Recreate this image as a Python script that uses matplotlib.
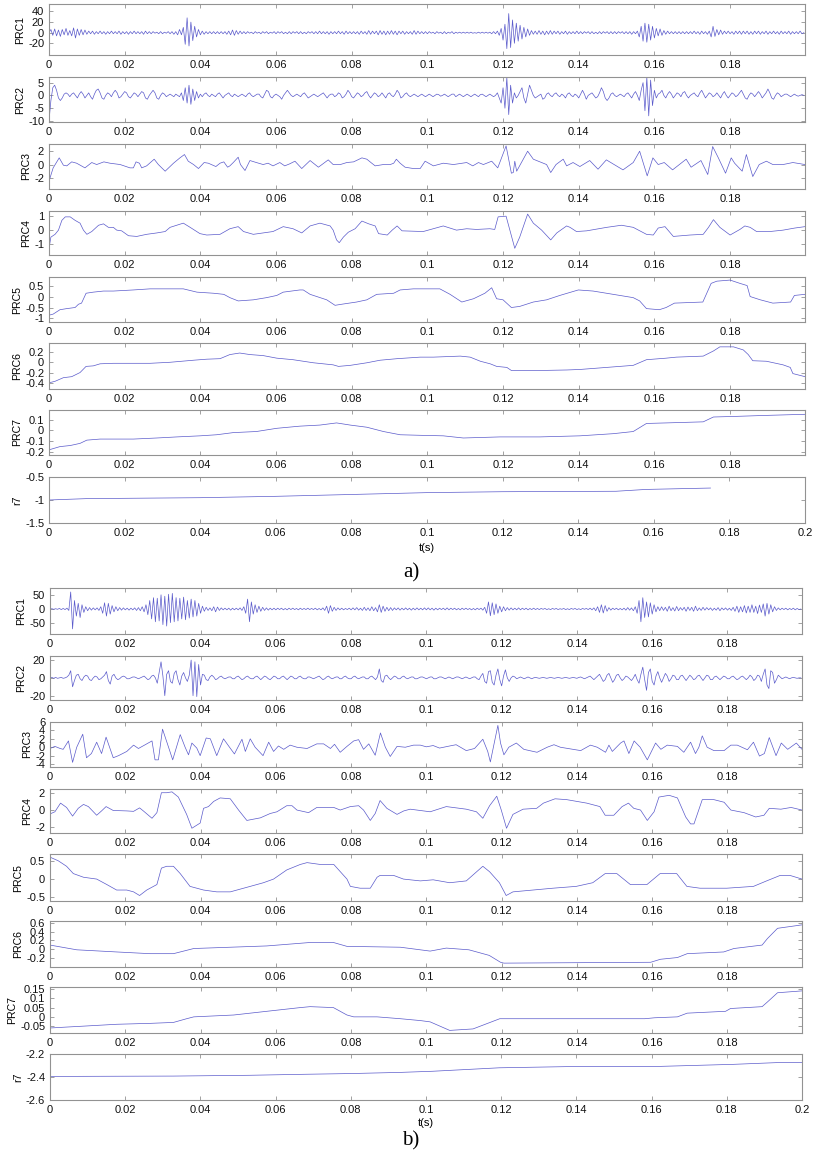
import numpy as np
import matplotlib
matplotlib.use('Agg')
import matplotlib.pyplot as plt
from matplotlib.ticker import FuncFormatter

plt.rcParams['font.family'] = ['Liberation Sans', 'DejaVu Sans']

# ---------------- data ----------------
# fast components: one value every 0.5 ms, 0 .. 199.5 ms
a_prc1 = [
    0, 6, -5, 7, -6, 5, -7, 6, -4, 8, -5, 4, -6, 9, -10, 7, -5, 6, -4, 5,
    -3, 3, -2, 3, -3, 2, -2, 3, -2, 2, -3, 2, -2, 3, -2, 2, -2, 3, -3, 2,
    -2, 2, -3, 2, -2, 3, -2, 2, -2, 2, -3, 3, -2, 2, -2, 2, -1, 1, -2, 2,
    -2, 1, -1, 2, -2, 2, -3, 2, -4, 6, -4, 10, -22, 28, -25, 20, -15, 12, -8, 6,
    -4, 3, -3, 2, -2, 2, -2, 2, -2, 2, -2, 2, -2, 2, -3, 3, -4, 5, -5, 4,
    -3, 3, -2, 2, -2, 2, -1, 1, -2, 2, -1, 1, -2, 2, -1, 2, -2, 1, -1, 2,
    -2, 2, -1, 2, -2, 1, -2, 2, -2, 2, -1, 2, -2, 2, -2, 1, -2, 2, -1, 2,
    -2, 2, -2, 3, -2, 2, -2, 2, -3, 2, -2, 2, -2, 3, -2, 2, -3, 3, -2, 2,
    -2, 2, -2, 2, -3, 3, -2, 2, -3, 4, -3, 3, -2, 3, -4, 4, -3, 3, -4, 3,
    -3, 4, -3, 3, -4, 3, -2, 3, -3, 2, -2, 2, -3, 4, -3, 3, -2, 2, -2, 2,
    -2, 2, -1, 1, -2, 2, -1, 1, -2, 2, -2, 1, -1, 2, -2, 1, -1, 1, -1, 1,
    -1, 1, -1, 1, -1, 0, -1, 1, -1, 1, -1, 1, -1, 1, -2, 2, -2, 3, -5, 8,
    -14, 16, -30, 36, -28, 24, -20, 18, -16, 14, -12, 10, -8, 7, -5, 4, -3, 3, -3, 4,
    -3, 3, -4, 3, -3, 4, -3, 3, -2, 3, -3, 2, -2, 3, -3, 2, -2, 2, -2, 3,
    -2, 2, -2, 2, -1, 2, -2, 2, -2, 1, -2, 2, -2, 2, -1, 2, -2, 2, -2, 2,
    -2, 2, -1, 2, -2, 2, -2, 2, -3, 2, -2, 3, -8, 12, -16, 18, -18, 16, -14, 12,
    -10, 8, -6, 7, -5, 4, -3, 3, -2, 2, -2, 2, -2, 2, -2, 2, -2, 2, -2, 2,
    -2, 3, -2, 2, -3, 3, -2, 2, -3, 3, -8, 12, -7, 6, -4, 5, -3, 3, -2, 3,
    -2, 2, -3, 3, -2, 3, -3, 3, -2, 3, -3, 2, -3, 3, -2, 3, -3, 2, -2, 3,
    -3, 2, -2, 3, -2, 2, -3, 3, -2, 2, -2, 3, -3, 2, -2, 2, -2, 3, -2, 0,
]
a_prc2 = [
    -10, -2, 3, 4, 2, -1, -2, -1, 0.5, 1, 0.5, -0.5, 0.5, 1, 0, -1, 0.5, 1.5, 0.5, -1,
    0, 1, -0.5, -1.5, 0.5, 2, 2.5, 1, -1, -1.5, 0, 1, 0.5, -0.5, 1, 2, 1, -1, -0.5, 0.5,
    1.5, 1, -0.5, -1, 0, 1, 0.5, -0.5, 0.5, 1.5, 1, -1, -1.5, 0, 1, 2, 1, -1, -1.5, 0,
    1, 0.5, -0.5, 0, 0.5, 0, -0.5, 0.5, 0, -0.5, 1, -2, 3, -3, 4, -3.5, 2.5, -2, 1.5, -1,
    0.5, -0.5, 0.5, 1, 0, -0.5, 0.5, 0, -0.5, 0.5, 1, 0, -1, 0, 0.5, 1, 0, -0.5, 0.5, 0,
    -0.5, 0, 0.5, 0, -0.5, 0.5, 1, 0, -0.5, 0, 0.5, 0.5, -0.5, -1, 0.5, 2, 1.5, -0.5, -1, 0,
    0.5, 0, -0.5, -1.5, 0, 1, 2, 1, 0, -0.5, 0, 0.5, 0, -0.5, 0.5, 1, 0, -1, -0.5, 0,
    0.5, 0, -0.5, 0, 0.5, 1, 0, -1, 0, 0.5, 0.5, -0.5, 0, 1, 0.5, -1, -0.5, 0.5, 2, 1,
    -0.5, -1, 0, 1, 0.5, -0.5, 0, 1, 1.5, 0, -1, 0, 1, 0.5, -0.5, 0, 1, 0, -1, 0.5,
    1, 0, -0.5, 0.5, 2, 1, -1, -0.5, 0.5, 1, 0, -0.5, 0, 0.5, 0, -0.5, 0, 0.5, 0, -0.5,
    0, 0.5, 0, -0.5, 0, 0.5, 0.3, -0.3, 0, 0.5, 0, -0.5, 0, 0.5, 0.5, -0.5, 0, 0.5, 0, -0.5,
    0, 0.5, 0, -0.5, 0, 0.5, 0, -0.5, 0.3, 0.5, 0, -0.5, 0, 0.5, 0, -0.5, 0, 1, -1, -3,
    3, -5, 7, -7.5, 4, -3, 1, -1, 0, 1.5, 3, -1, -3, 0.5, 4, 2, 0, -1, -0.5, 0,
    0.5, -1.5, -1, 0.5, 1, 0, -0.5, 0.5, 1, 0, -0.5, 0.5, 0, -1, 0.5, 1, 0, -0.5, 0.5, 0,
    -1, 0.5, 2, 0.5, -1.5, 0, 0.5, 1, 0, -1, -0.5, 1, 3, 1.5, -1, -2, -1, 0.5, 1, 0,
    -0.5, 0, 0.5, 0, -0.5, 0.5, 1, 0, -1, 0.5, 1.5, 0, -2, 2, 5, -6, 7, -8, 6, -4,
    2, -1, 0.5, 1, 2, 0, -1, 0.5, 1.5, 0.5, -1, 0, 1, 0.5, -0.5, 1, 1.5, 0, -1, 0,
    0.5, 1, 0, -0.5, 1, 2, 0.5, -1, 0, 1, 0.5, -0.5, 0, 1, 0, -1, 0.5, 1.5, 0, -1,
    0, 1, 0.5, -0.5, 0, 1, 2, 0.5, -1, -1.5, 0, 1, 0.5, -0.5, 0.5, 1.5, 0.5, -1, 0, 1,
    2.5, 1, -1, -1.5, 0, 1, 0.5, -0.5, 0, 0.5, 0.5, 0, -0.5, 0, 0.5, 0, -0.3, 0, 0.3, 0,
]
b_prc1 = [
    0, 1, -1, 1, -1, 2, -2, 2, -2, 3, -5, 60, -70, 30, -25, 20, -30, 15, -12, 8,
    -6, 5, -4, 4, -3, 4, -5, 8, -15, 22, -25, 20, -18, 12, -10, 8, -6, 5, -4, 4,
    -3, 3, -4, 3, -3, 4, -5, 5, -6, 8, -10, 15, -20, 30, -35, 40, -45, 38, -42, 50,
    -55, 45, -60, 52, -48, 55, -45, 40, -42, 38, -35, 42, -38, 30, -32, 35, -28, 30, -25, 20,
    -15, 10, -8, 6, -5, 4, -6, 8, -10, 7, -5, 4, -3, 3, -3, 3, -4, 3, -3, 3,
    -3, 4, -5, 8, -15, 35, -45, 25, -18, 15, -12, 10, -8, 6, -5, 4, -4, 3, -3, 3,
    -3, 3, -2, 3, -3, 2, -3, 3, -2, 3, -2, 2, -3, 3, -2, 2, -2, 3, -2, 2,
    -2, 3, -3, 2, -3, 4, -5, 10, -15, 12, -8, 6, -5, 4, -3, 3, -3, 2, -2, 3,
    -3, 4, -3, 5, -4, 3, -5, 6, -5, 4, -6, 8, -6, 5, -10, 15, -12, 10, -8, 6,
    -6, 5, -5, 4, -3, 4, -4, 3, -3, 4, -3, 3, -4, 3, -3, 4, -3, 3, -3, 4,
    -3, 4, -3, 3, -4, 3, -3, 3, -2, 3, -3, 4, -3, 3, -2, 3, -3, 2, -3, 3,
    -2, 3, -2, 2, -3, 2, -3, 3, -2, 3, -4, 6, -15, 25, -24, 22, -20, 18, -15, 10,
    -10, 8, -6, 5, -4, 4, -3, 3, -3, 4, -3, 3, -2, 3, -3, 2, -2, 3, -2, 2,
    -2, 2, -1, 2, -2, 1, -2, 2, -1, 2, -2, 1, -1, 2, -2, 1, -2, 2, -1, 2,
    -2, 1, -2, 2, -1, 2, -2, 3, -3, 4, -6, 8, -12, 15, -14, 12, -8, 5, -4, 3,
    -2, 3, -3, 2, -3, 3, -4, 5, -4, 4, -6, 8, -15, 30, -45, 40, -30, 25, -28, 22,
    -18, 15, -10, 8, -6, 8, -5, 6, -8, 10, -6, 5, -7, 9, -6, 5, -4, 6, -8, 7,
    -5, 6, -8, 10, -6, 4, -5, 6, -4, 5, -3, 4, -5, 3, -4, 5, -6, 4, -3, 4,
    -4, 3, -5, 6, -8, 10, -12, 8, -10, 12, -14, 10, -12, 15, -12, 10, -16, 14, -12, 18,
    -25, 20, -18, 15, -10, 8, -5, 4, -3, 3, -2, 3, -3, 2, -2, 3, -3, 2, -2, 0,
]
b_prc2 = [
    0, 0.5, -0.5, 0.5, -0.5, 0, 0.5, -0.5, 0, 1, 3, 8, -10, -3, 3, 4, -1, -3, 1, 3,
    2, -2, -3, 0, 2, 1, -2, -1, 1, 3, 7, -3, -7, 2, 4, 0, -2, -1, 1, 2,
    1, -1, -1, 0, 1, 1, 0, -1, 0, 1, 2, 0, -2, -1, 2, 3, 0, -6, 6, 18,
    2, -20, 4, 8, -4, -6, 5, 8, -2, -8, 2, 6, 0, -4, 3, 20, -20, 18, -21, 15,
    -8, 4, 3, -2, -3, 1, 3, 1, -2, -1, 1, 2, 0, -1, 0, 1, 1, -1, -1, 1,
    2, 0, -2, -1, 1, 2, 0, -1, -1, 1, 2, 0, -2, 0, 2, 1, -1, -2, 0, 2,
    1, -1, -1, 1, 2, 0, -2, 0, 2, 1, -1, -1, 1, 2, 0, -1, -1, 1, 1, 0,
    -1, 0, 1, 2, 0, -2, -1, 1, 2, 0, -1, 0, 1, 1, -1, -1, 1, 2, 0, -1,
    -1, 1, 2, 0, -1, 0, 1, 1, -1, -1, 1, 2, 0, -2, 1, 10, -3, -5, 2, 3,
    0, -2, 0, 2, 1, -1, -1, 1, 2, 0, -1, 0, 1, 1, -1, -1, 0, 1, 1, 0,
    -1, 0, 1, 1, -1, -1, 0, 1, 1, 0, -1, 0, 1, 0, -1, 0, 1, 1, 0, -1,
    0, 1, 0, -1, 0, 1, 1, -1, -2, 2, 5, -4, -6, 7, 8, -5, -8, 3, 10, -2,
    -9, 2, 9, 0, -4, 0, 2, 1, -1, 0, 1, 0, -1, 0, 1, 0, -1, 0, 0.5, 0,
    -0.5, 0, 0.5, 0, -0.5, 0, 0.5, 0, -0.5, 0, 0.5, 0, -0.5, 0, 0.5, 0, -0.5, 0, 0.5, 0,
    -0.5, 0.5, 1, 0, -1, 0, 1, 2, 0, -2, 0, 2, 4, 0, -4, -2, 3, 5, 0, -5,
    -2, 3, 4, 0, -3, -1, 2, 1, -1, -3, 0, 4, -2, -6, 4, 12, -2, -14, 6, 10,
    -4, -8, 2, 7, 0, -5, 0, 5, 2, -4, -1, 3, 2, -2, -2, 2, 3, 0, -3, 0,
    3, 1, -2, -1, 2, 3, 0, -3, 0, 3, 2, -2, -2, 1, 2, 0, -2, 0, 2, 1,
    -1, -1, 1, 2, 0, -2, -1, 1, 2, 0, -2, 0, 3, 1, -3, -1, 3, 2, -4, 4,
    10, -8, -12, 8, 6, -6, -2, 3, 1, -1, 0, 1, 0, -1, 0, 0.5, 0, -0.5, 0, 0,
]

# slower components: (time in ms, value) vertices
a_prc3 = [(0, -2.5), (1.1, -0.5), (2.7, 1.0), (3.8, -0.1), (4.7, -0.2), (6, 0.4), (7.3, 0.2), (9.5, -0.5),
          (11.3, 0.3), (12.6, 0), (14.5, 0.4), (16.1, 0.2), (18.8, 0), (21.4, -0.5), (22.3, -0.5), (23, 0.4),
          (23.9, 0.2), (24.5, -0.5), (25.8, -0.2), (27.8, 0.8), (28.9, 0), (30.7, -1.0), (32.9, 0.2), (34.6, 1.0),
          (35.8, 1.5), (36.8, 0.5), (38.2, 0), (39.5, -0.6), (41, 0.3), (42.1, 0.2), (44.1, -0.3), (45.2, 0.2),
          (46.2, 0.4), (47.2, -0.4), (47.8, -0.2), (48.7, 0.3), (50, 1.1), (50.6, 0), (51.8, -0.9), (53.1, 0.6),
          (54.8, 0.3), (56.6, 0), (57.9, 0.2), (59.2, -0.2), (61, 0.3), (62.3, -0.2), (63.6, 0.1), (65, 0.5),
          (66.8, -0.6), (69, 0.6), (71.2, -0.4), (73.8, 0.7), (75.1, 0), (77, 0), (78.7, 0.3), (80.5, 0.4),
          (82.7, 1.0), (84, 0.8), (85.3, 0.2), (86.2, -0.2), (88.4, 0), (90.2, 0), (91.1, 0.2), (91.8, 0.8),
          (92.8, 0.2), (94.1, -0.4), (96.3, -0.6), (98.1, -0.6), (99.4, 0.5), (101.6, -0.2), (104.2, 0.2),
          (106.9, 0), (110.4, 0.3), (112, -0.2), (113.5, 0.3), (114.8, 0), (117, 0.5), (118.6, -0.5), (120.8, 2.8),
          (122.2, -1.3), (122.7, -1.2), (123.1, 0.5), (123.6, -1.0), (126.5, 2.0), (128, 0.8), (131.5, 0),
          (132.6, -1.2), (134, 0), (135.9, 0.8), (136.8, -0.2), (138.5, 0.3), (140.3, -0.3), (142.9, 0.6),
          (145.1, -0.7), (147.3, 0.7), (151.7, -0.8), (154.4, 0.3), (156.1, 2.0), (158.1, -1.7), (159.6, 1.0),
          (161, 0), (162.6, 0.3), (164.8, -0.8), (168.4, 0.8), (169.7, -0.4), (172.3, 0.6), (174.1, -1.5),
          (175.4, 2.7), (176.9, 1.0), (178.8, -1.3), (180.3, 1.0), (181.2, 0.2), (183.2, -1.0), (184.3, 1.5),
          (186, -1.8), (187.7, 0), (189.6, 0.5), (191.3, 0), (194, 0), (196.6, 0.3), (199.8, 0)]
a_prc4 = [(0, -1.3), (0.5, -0.5), (1.6, -0.3), (2.5, 0), (3.4, 0.7), (4.3, 0.95), (5.6, 0.95), (6.9, 0.7),
          (8.2, 0.5), (9.1, 0), (10, -0.3), (11.3, -0.1), (13.1, 0.35), (14.4, 0.45), (15.7, 0.2), (17, 0.2),
          (17.9, 0), (19.2, -0.05), (21, -0.4), (23.2, -0.45), (25.8, -0.3), (28.5, -0.2), (30.7, -0.1), (32, 0.2),
          (35.5, 0.5), (37.3, 0.2), (39.9, -0.25), (41.7, -0.35), (45.2, -0.3), (47.8, 0.1), (50, 0.25),
          (51.4, -0.1), (54, -0.3), (56.6, -0.2), (59.2, -0.1), (61.9, 0.25), (64.5, 0.1), (66.8, -0.2), (69, 0.3),
          (71.6, 0.5), (74.3, 0.3), (75.1, 0), (76, -0.7), (76.7, -0.9), (77.8, -0.5), (79.1, -0.15), (80.9, 0.1),
          (82.7, 0.65), (84.5, 0.45), (86.2, 0.3), (87.1, -0.25), (89.4, -0.35), (90.7, 0), (92, 0.3),
          (93.3, -0.05), (98.9, -0.1), (104.2, 0.3), (107.7, 0), (110.4, 0.1), (113, 0.05), (116.5, 0.1),
          (117.8, 0.05), (118.7, 0.95), (120.8, 1.0), (121.8, 0), (123.1, -1.3), (124.4, -0.5), (126.5, 1.15),
          (128, 0.5), (130.2, 0), (132.6, -0.7), (134.2, -0.2), (136.8, 0.3), (137.7, 0.2), (139.4, -0.1),
          (142.1, -0.05), (147.4, 0.2), (151.3, 0.35), (154.4, 0.2), (157.9, -0.3), (159.7, -0.35), (161, 0.15),
          (162.8, 0.25), (165, -0.45), (169.4, -0.35), (172.9, -0.3), (174.3, 0.2), (175.6, 0.75), (177.3, 0.2),
          (180, -0.35), (182.6, 0.05), (183.9, 0.3), (185.3, 0.2), (187, -0.1), (190.5, -0.1), (194, 0),
          (197.1, 0.15), (199.8, 0.25)]
a_prc5 = [(0, -0.85), (1.1, -0.8), (2.9, -0.6), (4.7, -0.55), (6.9, -0.5), (7.8, -0.35), (8.6, -0.3), (9.8, 0.15),
          (11.7, 0.2), (14.4, 0.25), (17, 0.25), (22.3, 0.3), (26.7, 0.35), (31.1, 0.35), (35.5, 0.35), (39.1, 0.2),
          (43.5, 0.15), (46.2, 0.1), (47.8, -0.05), (50, -0.2), (54, -0.15), (57.5, -0.05), (60.2, 0.05),
          (61.9, 0.2), (66.3, 0.3), (67.2, 0.3), (69, 0.1), (73.4, -0.15), (75.6, -0.4), (77.4, -0.35),
          (81.3, -0.25), (84, -0.15), (86.6, 0.1), (91.1, 0.15), (92.8, 0.3), (96.3, 0.35), (98.1, 0.35),
          (103.3, 0.35), (106, 0.1), (109.1, -0.25), (112.2, -0.1), (115.2, 0.15), (117, 0.4), (118.3, -0.1),
          (120, -0.15), (122.2, -0.5), (124.4, -0.45), (128, -0.25), (131.5, -0.15), (135, 0.05), (139.9, 0.3),
          (143.8, 0.25), (149.1, 0.1), (154.4, -0.05), (156.1, -0.2), (157.9, -0.55), (161.3, -0.6),
          (163.1, -0.5), (165.3, -0.3), (172.8, -0.25), (175, 0.6), (176.5, 0.7), (180, 0.75), (182.6, 0.6),
          (184.5, 0.5), (185.3, 0), (188, -0.15), (191.3, -0.3), (196, -0.25), (197, 0.05), (199.8, 0.1)]
a_prc6 = [(0, -0.4), (1.6, -0.37), (3.8, -0.3), (6, -0.28), (8.2, -0.2), (9.8, -0.08), (11.7, -0.07),
          (13.5, -0.03), (17, -0.02), (26.7, -0.02), (32, 0), (38.2, 0.04), (41.7, 0.06), (45.2, 0.07),
          (47.8, 0.15), (50.4, 0.18), (53.1, 0.15), (56.6, 0.13), (60.2, 0.08), (64.5, 0.05), (69.9, -0.01),
          (75.1, -0.05), (76.5, -0.08), (79.6, -0.06), (84, -0.01), (87.5, 0.04), (92, 0.07), (98.1, 0.1),
          (101.6, 0.1), (108.7, 0.12), (111.3, 0.1), (114, 0.02), (116.6, -0.03), (118.3, -0.08), (121, -0.1),
          (122.2, -0.16), (129.7, -0.16), (136.8, -0.15), (140.3, -0.14), (145.6, -0.11), (154.4, -0.06),
          (157.9, 0.05), (163.1, 0.08), (165.8, 0.1), (172.9, 0.12), (175.6, 0.22), (177.3, 0.3), (180.9, 0.3),
          (183.5, 0.24), (184.8, 0.15), (186, 0.03), (189.6, 0.02), (194, -0.05), (195.9, -0.1), (196.6, -0.22),
          (199.8, -0.28)]
a_prc7 = [(0, -0.18), (2.9, -0.15), (5.6, -0.14), (8.2, -0.12), (10, -0.09), (13.5, -0.08), (22.3, -0.08),
          (28.5, -0.07), (33.8, -0.06), (39.9, -0.05), (44.3, -0.04), (48.7, -0.02), (54.8, -0.01), (60.2, 0.02),
          (66.3, 0.04), (71.6, 0.05), (76, 0.07), (79.6, 0.05), (84, 0.03), (88.4, -0.01), (92.8, -0.04),
          (98.1, -0.045), (104.2, -0.05), (109.5, -0.07), (119.2, -0.06), (129.7, -0.06), (140.3, -0.05),
          (149.1, -0.03), (154.4, -0.01), (157.9, 0.065), (163.1, 0.07), (172.9, 0.08), (175.6, 0.125),
          (180.9, 0.13), (189.6, 0.14), (199.8, 0.15)]
a_r7 = [(0, -1.0), (10, -0.97), (40, -0.95), (60, -0.92), (75, -0.89), (90, -0.86), (100, -0.84),
        (120, -0.82), (150, -0.81), (158, -0.77), (175, -0.74)]

b_prc3 = [(0, -0.3), (1.3, 0.2), (2.7, -0.3), (3.5, -0.5), (4.9, 1.5), (6, -3.6), (7.1, 0), (8.7, 3.1),
          (9.7, -2.5), (11, -1.5), (12.4, 1.2), (13.7, -1.5), (14.9, 2.4), (16.8, -2.5), (18.2, -2), (20.4, -1),
          (22.2, 0.5), (23.5, -0.3), (25.7, 0.8), (27.1, 1.5), (27.9, -3), (28.8, -3), (29.9, 4.3), (31.5, 0),
          (32.6, -3), (34.6, 3.0), (35.9, 0), (36.8, -1.8), (37.7, 1.0), (39, -0.2), (39.9, -2), (41.5, 2.2),
          (42.6, 2.0), (44.3, -2.0), (46.1, 2.0), (47.7, 0), (49, -1.6), (51, 1.9), (51.9, -1), (53.2, 2.0),
          (54.5, 0), (56.6, -2.0), (58.1, 1.2), (59.4, -1), (60.7, 0.3), (62.1, -0.5), (63.8, 0.5), (65.6, 0),
          (68.3, -0.3), (70.9, 0.8), (72.7, 0.8), (74.5, -0.3), (75.6, 0.7), (77.1, -1.2), (78.9, 0.2),
          (80.7, 1.5), (82, 1.8), (83.3, -0.5), (84.7, 0.8), (86.4, -1.9), (87.8, 3.4), (89.1, 0), (90.4, -2.2),
          (92.2, 0.2), (94.4, 0), (96.6, 0.5), (98.4, 0.5), (100, 0.1), (101.8, 0.4), (103.5, -0.2), (106.2, 0.3),
          (107.9, 0.6), (110.6, -0.8), (112.8, -0.3), (115, 1.9), (116.3, -1), (117, -3.5), (117.8, 0),
          (119, 5.2), (119.7, 1), (120.6, -1.8), (121.9, 0), (123.9, 1.0), (125.9, -0.5), (129.4, -1.2),
          (132.1, 0), (133.9, 0.6), (135.6, 0), (141, -0.8), (143.6, 0.5), (145.4, 0), (147.6, -1.2),
          (148.5, 0.5), (149.4, -1), (151.6, 1.0), (152.5, 1.5), (153.8, -1.5), (155.2, 1.5), (156.8, 0),
          (158.7, -3), (160.9, 1.0), (162.3, -0.5), (164, 0.5), (166.7, 0.2), (168.4, -1.2), (170.2, 1.2),
          (171.5, -1.5), (172.4, 0), (173.3, 2.7), (174.6, 0), (176.4, -0.8), (179.1, -0.8), (180.9, 0.5),
          (182.6, 0.5), (185.3, -0.6), (186.9, 1.2), (188.5, -2.1), (189.8, -1.5), (191.1, 2.3), (192.9, -2),
          (194.3, 1.0), (196, -0.5), (198.3, 1.0), (199.8, -0.5)]
b_prc4 = [(0, -0.45), (1.3, -0.2), (2.8, 0.8), (4.4, 0.3), (6, -0.7), (7.5, 0.2), (8.9, 0.65), (10.2, 0.4),
          (12.4, -0.6), (13.7, -0.1), (14.9, 0.4), (16.8, -0.05), (20.4, -0.1), (22.2, -0.15), (23.8, 0.25),
          (24.8, -0.1), (27.1, -0.95), (28.4, -0.3), (29.6, 2.0), (31, 2.0), (32.4, 2.1), (34.1, 1.5),
          (36.3, -0.5), (37.7, -2.1), (39.9, -1.5), (40.8, 0.2), (42.1, 0.4), (43.5, 1.0), (45.2, 1.4),
          (47.9, 1.3), (50.1, 0), (52.3, -1.2), (55.9, -0.9), (58.5, -0.4), (60.3, -0.2), (62.9, 0.5),
          (64.3, 0.5), (65.6, 0), (68.7, -0.3), (70.9, 0.3), (75.4, 0.3), (77.1, 0), (79.8, 0.4), (82, 0.5),
          (83.3, 0), (85.1, -1.2), (86.4, -0.4), (87.7, 1.1), (89.5, 0.2), (92.2, -0.5), (94, -0.1), (95.7, 0.1),
          (101, -0.2), (105.3, 0.4), (110.6, 0.1), (113.3, -0.2), (115, -0.95), (116.8, 0.5), (118.7, 1.6),
          (119.9, 0), (121.3, -2.1), (123, -0.5), (125.7, 0.1), (129.3, 0.2), (131.1, 0.8), (134.2, 1.3),
          (137.3, 1.2), (142.6, 0.8), (146.1, 0.4), (147.5, -0.6), (149.8, -0.6), (152, 0.4), (153.7, 0.8),
          (155.1, 0.2), (156.9, 0), (158.7, -1.2), (160.5, -0.2), (161.8, 1.5), (164.5, 1.7), (166.7, 1.4),
          (168.9, -0.8), (170.2, -1.6), (171.1, -1.6), (173.3, 1.2), (176.4, 1.2), (179.1, 0.9), (180.9, 0),
          (184.4, -0.3), (187.5, -0.8), (189.7, -0.6), (191.1, 0.2), (194.2, 0.1), (196.9, 0.3), (199.8, 0)]
b_prc5 = [(0, 0.6), (2.2, 0.5), (4.4, 0.35), (6.2, 0.15), (8.9, 0.05), (12.4, 0), (15.1, -0.15), (17.7, -0.3),
          (20.4, -0.3), (22.2, -0.35), (23.8, -0.45), (25.7, -0.3), (28.4, -0.15), (29.6, 0.3), (31, 0.35),
          (32.8, 0.35), (34.6, 0.15), (37.2, -0.2), (40.8, -0.3), (44.3, -0.35), (47.9, -0.35), (53.2, -0.2),
          (56.7, -0.1), (59.4, 0), (62.9, 0.25), (66.5, 0.4), (68.3, 0.45), (71.8, 0.4), (75.4, 0.4), (78.9, 0),
          (79.8, -0.2), (82.4, -0.25), (85.1, -0.25), (86.9, 0.05), (87.7, 0.1), (91.3, 0.1), (93.9, 0),
          (98.4, -0.05), (101.8, -0.02), (106.2, -0.1), (110.6, -0.05), (115, 0.35), (116.8, 0.2),
          (119.4, -0.1), (121.2, -0.45), (123, -0.35), (128.3, -0.3), (133.6, -0.25), (139.8, -0.2),
          (144.2, -0.1), (147.5, 0.15), (150.6, 0.15), (154.2, -0.15), (158.6, -0.15), (162.1, 0.15),
          (166.5, 0.15), (169.2, -0.2), (172.7, -0.25), (179.8, -0.25), (186.9, -0.2), (190.4, -0.05),
          (194, 0.1), (196.6, 0.1), (199.8, 0)]
b_prc6 = [(0, 0.09), (7.1, -0.02), (17.7, -0.07), (26.6, -0.11), (32.8, -0.11), (38.2, 0.01), (57.6, 0.07),
          (69.1, 0.15), (75.3, 0.15), (78.9, 0.06), (93.1, 0.04), (101, -0.05), (105.3, 0.02), (111.3, -0.02),
          (116.7, -0.15), (119.7, -0.31), (120.6, -0.33), (159.6, -0.31), (162.2, -0.24), (166.7, -0.2),
          (169.3, -0.11), (179, -0.07), (181.7, 0.01), (189.2, 0.09), (190.6, 0.24), (193.3, 0.48),
          (199.8, 0.56)]
b_prc7 = [(0, -0.06), (4.4, -0.055), (8.9, -0.05), (17.7, -0.04), (26.6, -0.035), (32.8, -0.03),
          (36.3, -0.01), (38.2, 0), (48.8, 0.01), (57.6, 0.03), (66.5, 0.05), (69.1, 0.055), (75.3, 0.05),
          (78.9, 0.01), (80.7, 0), (86.9, 0), (93.1, -0.01), (98.4, -0.02), (101, -0.027), (106.2, -0.073),
          (112.4, -0.065), (119.5, -0.01), (158, -0.01), (160.6, -0.005), (166.7, 0), (169.3, 0.02),
          (179.5, 0.03), (180.8, 0.045), (189.2, 0.055), (190.6, 0.08), (193.3, 0.13), (199.8, 0.14)]
b_r7 = [(0, -2.395), (32.8, -2.392), (53.2, -2.385), (66.5, -2.377), (80, -2.37), (93.1, -2.36),
        (101.8, -2.35), (119.5, -2.32), (137.3, -2.31), (159.6, -2.31), (181.7, -2.29), (193.3, -2.275),
        (200, -2.275)]

labels = ['PRC1', 'PRC2', 'PRC3', 'PRC4', 'PRC5', 'PRC6', 'PRC7', 'r7']
x_ticks = [0, 0.02, 0.04, 0.06, 0.08, 0.1, 0.12, 0.14, 0.16, 0.18, 0.2]

a_yticks = [[-20, 0, 20, 40], [-10, -5, 0, 5], [-2, 0, 2], [-1, 0, 1], [-1, -0.5, 0, 0.5],
            [-0.4, -0.2, 0, 0.2], [-0.2, -0.1, 0, 0.1], [-1.5, -1, -0.5]]
b_yticks = [[-50, 0, 50], [-20, 0, 20], [-4, -2, 0, 2, 4, 6], [-2, 0, 2], [-0.5, 0, 0.5],
            [-0.2, 0, 0.2, 0.4, 0.6], [-0.05, 0, 0.05, 0.1, 0.15], [-2.6, -2.4, -2.2]]

# ---------------- drawing ----------------
W, H = 813, 1158
LINE = '#5a5acb'
GREY = '#929292'
fmt = FuncFormatter(lambda v, p: '%g' % round(v, 6))

t_fast = np.arange(400) * 0.0005


def vertices(pairs):
    t = np.array([p[0] for p in pairs]) / 1000.0
    v = np.array([p[1] for p in pairs])
    return t, v


def panel(fig, box, t, v, ylim, yticks, label, xmax):
    left, right, top, bottom = box
    ax = fig.add_axes([left / W, 1 - bottom / H, (right - left) / W, (bottom - top) / H])
    ax.plot(t, v, color=LINE, lw=0.5)
    ax.set_xlim(0, xmax)
    ax.set_ylim(*ylim)
    ax.set_xticks([x for x in x_ticks if x <= xmax])
    ax.set_yticks(yticks)
    ax.xaxis.set_major_formatter(fmt)
    ax.yaxis.set_major_formatter(fmt)
    ax.tick_params(direction='in', top=True, right=True, length=3, width=0.6,
                   color=GREY, labelsize=8, labelcolor='#111111', pad=3.5)
    for s in ax.spines.values():
        s.set_color(GREY)
        s.set_linewidth(0.8)
    ax.set_ylabel(label, fontsize=7.6, labelpad=2)
    return ax


fig = plt.figure(figsize=(W / 100, H / 100), dpi=100)

a_series = [(t_fast, np.array(a_prc1)), (t_fast, np.array(a_prc2)), vertices(a_prc3), vertices(a_prc4),
            vertices(a_prc5), vertices(a_prc6), vertices(a_prc7), vertices(a_r7)]
b_series = [(t_fast, np.array(b_prc1)), (t_fast, np.array(b_prc2)), vertices(b_prc3), vertices(b_prc4),
            vertices(b_prc5), vertices(b_prc6), vertices(b_prc7), vertices(b_r7)]

a_rows = [(4, 55), (77, 122), (144, 189), (211, 255), (277, 322), (343, 389), (410, 455), (477, 523)]
b_rows = [(588, 634), (656, 700), (722, 767), (789, 833), (854, 901), (921, 967), (987, 1033), (1054, 1100)]
a_lims = [(-42, 54), (-10.4, 7.2), (-3.67, 3.08), (-1.78, 1.37), (-1.16, 0.89), (-0.52, 0.375),
          (-0.228, 0.19), (-1.5, -0.5)]
b_lims = [(-88, 74), (-24.8, 24.5), (-4.7, 6.0), (-2.65, 2.43), (-0.6, 0.686), (-0.42, 0.65),
          (-0.087, 0.161), (-2.6, -2.2)]

for i in range(8):
    xmax = 0.2 if i == 7 else 0.1998
    t, v = a_series[i]
    panel(fig, (49, 805, *a_rows[i]), t, v, a_lims[i], a_yticks[i], labels[i], xmax)
    t, v = b_series[i]
    panel(fig, (50, 802, *b_rows[i]), t, v, b_lims[i], b_yticks[i], labels[i], xmax)

fig.text(427 / W, 1 - 548 / H, 't(s)', fontsize=8, ha='center', va='center')
fig.text(426 / W, 1 - 1123 / H, 't(s)', fontsize=8, ha='center', va='center')
fig.text(411 / W, 1 - 573 / H, 'a)', fontsize=15, ha='center', va='center', family='Liberation Serif')
fig.text(411 / W, 1 - 1141 / H, 'b)', fontsize=15, ha='center', va='center', family='Liberation Serif')

fig.savefig('out.png', dpi=100, facecolor='white')
